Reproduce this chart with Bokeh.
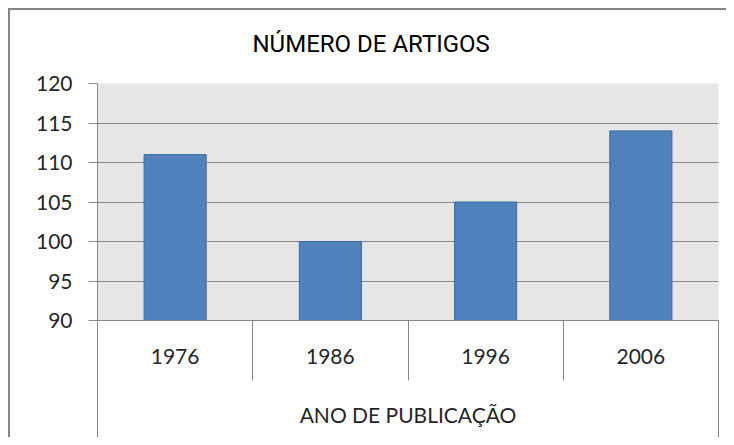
from bokeh.plotting import figure
from bokeh.models import Range1d, FixedTicker, LinearAxis
from bokeh.embed import file_html
from bokeh.resources import INLINE

# ---- data ----
years = ["1976", "1986", "1996", "2006"]
counts = [111, 100, 105, 114]
y_ticks = [90, 95, 100, 105, 110, 115, 120]
y_min, y_max = 90, 120
chart_title = "NÚMERO DE ARTIGOS"
x_title = "ANO DE PUBLICAÇÃO"

n = len(years)
centers = [i + 0.5 for i in range(n)]
bounds = list(range(n + 1))

GRAY = "#868686"
LABEL_FONT = "Lato"
TXT = "#262626"
W, H = 726, 437

p = figure(width=W, height=H, output_backend="svg", toolbar_location=None,
           x_range=Range1d(0, n), y_range=Range1d(y_min, y_max),
           min_border_left=97, min_border_right=8, min_border_top=83,
           min_border_bottom=117, title=chart_title)

p.background_fill_color = "#e6e6e6"
p.border_fill_color = None
p.outline_line_color = None
# outer chart border (left / top edges) painted behind the transparent canvas
p.styles = {
    "background": (
        "linear-gradient(#868686, #868686) 8px 8px / 2px calc(100% - 8px) no-repeat, "
        "linear-gradient(#868686, #868686) 8px 8px / calc(100% - 8px) 2px no-repeat, "
        "#ffffff"
    )
}

# title
p.title.text_font = "Roboto"
p.title.text_font_size = "24px"
p.title.text_font_style = "normal"
p.title.text_color = "black"
p.title.align = "left"
p.title.offset = 155
p.title.standoff = 51

# bars
p.vbar(x=centers, top=counts, bottom=y_min, width=0.4,
       fill_color="#4f81bd", line_color="#3b6a9c", line_width=1)

# grid
p.xgrid.visible = False
p.ygrid.ticker = FixedTicker(ticks=y_ticks)
p.ygrid.grid_line_color = GRAY
p.ygrid.grid_line_width = 1

# y axis
ya = p.yaxis[0]
ya.ticker = FixedTicker(ticks=y_ticks)
ya.axis_line_color = GRAY
ya.major_tick_line_color = GRAY
ya.major_tick_out = 9
ya.major_tick_in = 0
ya.minor_tick_line_color = None
ya.major_label_standoff = 16
ya.major_label_text_font = LABEL_FONT
ya.major_label_text_font_size = "21px"
ya.major_label_text_color = TXT

# x axis: category labels + separators between categories
xa = p.xaxis[0]
xa.ticker = FixedTicker(ticks=centers, minor_ticks=bounds)
xa.major_label_overrides = {c: y for c, y in zip(centers, years)}
xa.axis_line_color = GRAY
xa.major_tick_line_color = None
xa.major_tick_out = 0
xa.major_tick_in = 0
xa.minor_tick_line_color = GRAY
xa.minor_tick_out = 60
xa.minor_tick_in = 0
xa.major_label_standoff = -32
xa.major_label_text_font = LABEL_FONT
xa.major_label_text_font_size = "21px"
xa.major_label_text_color = TXT

# second row: axis title + outer edges of the category table
ttl = LinearAxis(ticker=FixedTicker(ticks=[], minor_ticks=[0, n]))
ttl.axis_line_color = None
ttl.major_tick_line_color = None
ttl.major_tick_in = 0
ttl.major_tick_out = 0
ttl.minor_tick_line_color = GRAY
ttl.minor_tick_in = 42
ttl.minor_tick_out = 80
ttl.axis_label = x_title
ttl.axis_label_standoff = -45
ttl.axis_label_text_font = LABEL_FONT
ttl.axis_label_text_font_size = "21px"
ttl.axis_label_text_font_style = "normal"
ttl.axis_label_text_color = TXT
p.add_layout(ttl, "below")

open("out.html", "w").write(file_html(p, INLINE))
